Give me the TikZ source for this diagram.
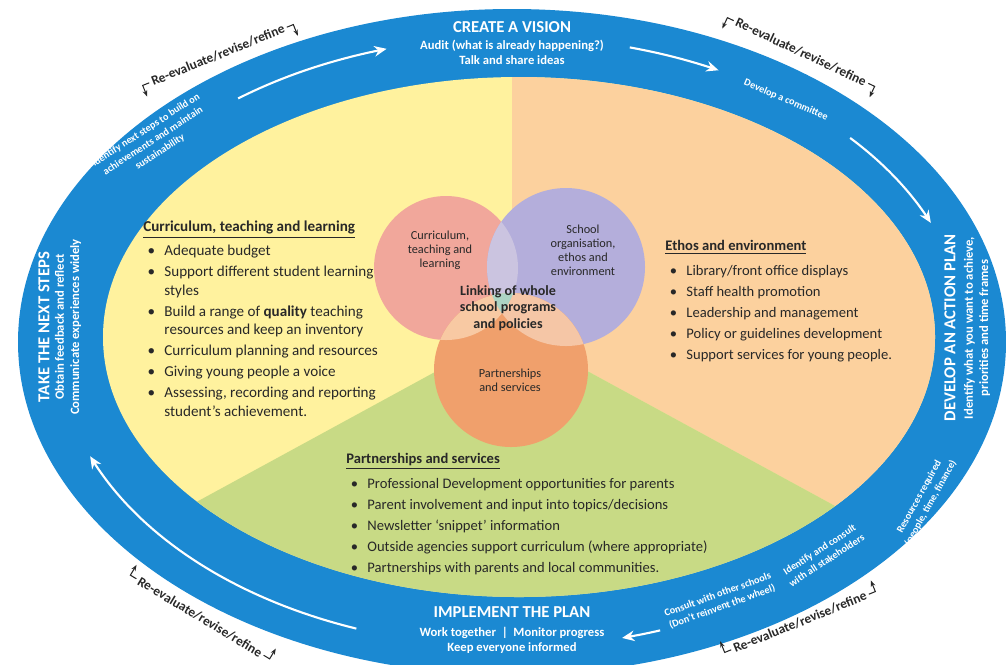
\documentclass[tikz,border=0pt]{standalone}
\usepackage{fontspec}
\setmainfont{Carlito}
\usepackage{tikz}
\usetikzlibrary{arrows.meta}

\definecolor{bandblue}{RGB}{27,137,210}
\definecolor{secyellow}{RGB}{255,242,158}
\definecolor{secpeach}{RGB}{252,209,158}
\definecolor{secgreen}{RGB}{200,218,133}
\definecolor{cpink}{RGB}{241,167,155}
\definecolor{cpurple}{RGB}{180,174,219}
\definecolor{corange}{RGB}{240,160,108}
\definecolor{cpinkpurple}{RGB}{203,196,224}
\definecolor{cpinkorange}{RGB}{248,201,163}
\definecolor{cpurpleorange}{RGB}{245,198,166}
\definecolor{ccentre}{RGB}{172,212,196}
\definecolor{txt}{RGB}{40,40,40}

\newcommand{\bul}{\hspace*{2.5pt}\makebox[9.5pt][l]{\textbullet}}
\newcommand{\ind}{\hspace*{12pt}}

\begin{document}
\begin{tikzpicture}[x=0.02cm, y=-0.02cm,
  bandtitle/.style={white, font=\bfseries\fontsize{9.5}{11}\selectfont, inner sep=0pt},
  bandsub/.style={white, font=\bfseries\fontsize{7.2}{8.6}\selectfont, align=center, inner sep=0pt},
  note/.style={white, font=\bfseries\fontsize{5.8}{7.4}\selectfont, align=center, inner sep=0pt},
  revise/.style={txt, font=\bfseries\fontsize{7.6}{9}\selectfont, inner sep=1.5pt},
  hook/.style={txt, line width=0.6pt, -{Stealth[length=3.5pt]}},
  bandarrow/.style={white, line width=1.2pt, -{Stealth[length=7pt, width=6pt]}},
  block/.style={anchor=north west, align=left, inner sep=0pt, txt},
  venn/.style={txt, font=\fontsize{7}{8}\selectfont, align=center, inner sep=0pt}]
\useasboundingbox (0,0) rectangle (1006,664);
\clip (0,0) rectangle (1006,664);

% outer band
\fill[bandblue] (512,342) ellipse [x radius=494, y radius=333];

% three sectors
\begin{scope}
  \clip (519,337) ellipse [x radius=416, y radius=260];
  \fill[secyellow] (0,0) rectangle (1006,664);
  \fill[secpeach] (512,330) -- (512,0) -- (1006,0) -- (1006,599) -- cycle;
  \fill[secgreen] (512,330) -- (1006,599) -- (1006,664) -- (0,664) -- (0,609) -- cycle;
\end{scope}

% venn circles
\fill[cpink] (446,268) circle [radius=72];
\fill[cpurple] (566,267) circle [radius=79];
\fill[corange] (511,370) circle [radius=77];
\begin{scope}
  \clip (446,268) circle [radius=72];
  \fill[cpinkpurple] (566,267) circle [radius=79];
  \fill[cpinkorange] (511,370) circle [radius=77];
  \clip (566,267) circle [radius=79];
  \fill[ccentre] (511,370) circle [radius=77];
\end{scope}
\begin{scope}
  \clip (566,267) circle [radius=79];
  \clip (-10,-10) rectangle (1016,674) (446,268) circle [radius=72];
  \fill[cpurpleorange] (511,370) circle [radius=77];
\end{scope}

\node[venn] (ctlc) at (440,250) {Curriculum,\\teaching and\\learning};
\node[venn] (seec) at (583,250) {School\\organisation,\\ethos and\\environment};
\node[venn, font=\bfseries\fontsize{8}{9.4}\selectfont] (link) at (508,308) {Linking of whole\\school programs\\and policies};
\node[venn] (psc) at (510,380) {Partnerships\\and services};

% text blocks
\node[block, font=\fontsize{8.6}{10.6}\selectfont] (ctl) at (143,221) {%
  \underline{\textbf{Curriculum, teaching and learning}}\\[3pt]
  \bul Adequate budget\\[1.3pt]
  \bul Support different student learning\\
  \ind styles\\[1.3pt]
  \bul Build a range of \textbf{quality} teaching\\
  \ind resources and keep an inventory\\[1.3pt]
  \bul Curriculum planning and resources\\[1.3pt]
  \bul Giving young people a voice\\[1.3pt]
  \bul Assessing, recording and reporting\\
  \ind student’s achievement.};

\node[block, font=\fontsize{8.3}{10.4}\selectfont] (ee) at (665,240) {%
  \underline{\textbf{Ethos and environment}}\\[4pt]
  \bul Library/front office displays\\[1.5pt]
  \bul Staff health promotion\\[1.5pt]
  \bul Leadership and management\\[1.5pt]
  \bul Policy or guidelines development\\[1.5pt]
  \bul Support services for young people.};

\node[block, font=\fontsize{8.3}{10.4}\selectfont] (ps) at (346,453) {%
  \underline{\textbf{Partnerships and services}}\\[4pt]
  \bul Professional Development opportunities for parents\\[1.5pt]
  \bul Parent involvement and input into topics/decisions\\[1.5pt]
  \bul Newsletter ‘snippet’ information\\[1.5pt]
  \bul Outside agencies support curriculum (where appropriate)\\[1.5pt]
  \bul Partnerships with parents and local communities.};

% stage titles in the band
\node[bandtitle] (visiont) at (512,27) {CREATE A VISION};
\node[bandsub] (visions) at (512,52) {Audit (what is already happening?)\\Talk and share ideas};
\node[bandtitle, rotate=90] (plant) at (950,328) {DEVELOP AN ACTION PLAN};
\node[bandsub, rotate=90] (plans) at (977,328) {Identify what you want to achieve,\\priorities and time frames};
\node[bandtitle] (implt) at (512,612) {IMPLEMENT THE PLAN};
\node[bandsub] (impls) at (512,640) {Work together \ \textbar\ \ Monitor progress\\Keep everyone informed};
\node[bandtitle, rotate=90] (stepst) at (44,327) {TAKE THE NEXT STEPS};
\node[bandsub, rotate=90] (stepss) at (68,327) {Obtain feedback and reflect\\Communicate experiences widely};

% small notes in the band
\node[note, rotate=33] (note1) at (153,141) {Identify next steps to build on\\achievements and maintain\\sustainability};
\node[note, rotate=-23] (note2) at (786,100) {Develop a committee};
\node[note, rotate=61] (note3) at (925,500) {Resources required\\(people, time, finance)};
\node[note, rotate=33] (note4) at (823,555) {Identify and consult\\with all stakeholders};
\node[note, rotate=20] (note5) at (720,601) {Consult with other schools\\(Don’t reinvent the wheel)};

% arrows running round the band
\draw[bandarrow] plot[domain=127:106, samples=20] ({512+455*cos(\x)}, {342-305*sin(\x)});
\draw[bandarrow] plot[domain=75:63, samples=20] ({512+455*cos(\x)}, {342-305*sin(\x)});
\draw[bandarrow] plot[domain=42:23, samples=20] ({512+455*cos(\x)}, {342-305*sin(\x)});
\draw[bandarrow] plot[domain=-71:-76, samples=10] ({512+455*cos(\x)}, {342-305*sin(\x)});
\draw[bandarrow] plot[domain=-110:-158, samples=40] ({512+455*cos(\x)}, {342-305*sin(\x)});

% re-evaluate loops outside the band
\begin{scope}[shift={(218,55)}, rotate=22, transform shape]
  \node[revise] (reTL) at (0,0) {Re-evaluate/revise/refine};
  \draw[hook] (reTL.west) -- ++(-7,0) -- ++(0,12);
  \draw[hook] (reTL.east) -- ++(7,0) -- ++(0,12);
\end{scope}
\begin{scope}[shift={(801,52)}, rotate=-25, transform shape]
  \node[revise] (reTR) at (0,0) {Re-evaluate/revise/refine};
  \draw[hook] (reTR.west) -- ++(-7,0) -- ++(0,12);
  \draw[hook] (reTR.east) -- ++(7,0) -- ++(0,12);
\end{scope}
\begin{scope}[shift={(200,617)}, rotate=-31, transform shape]
  \node[revise] (reBL) at (0,0) {Re-evaluate/revise/refine};
  \draw[hook] (reBL.west) -- ++(-7,0) -- ++(0,-12);
  \draw[hook] (reBL.east) -- ++(7,0) -- ++(0,-12);
\end{scope}
\begin{scope}[shift={(800,622)}, rotate=22, transform shape]
  \node[revise] (reBR) at (0,0) {Re-evaluate/revise/refine};
  \draw[hook] (reBR.west) -- ++(-7,0) -- ++(0,-12);
  \draw[hook] (reBR.east) -- ++(7,0) -- ++(0,-12);
\end{scope}
\end{tikzpicture}
\end{document}
